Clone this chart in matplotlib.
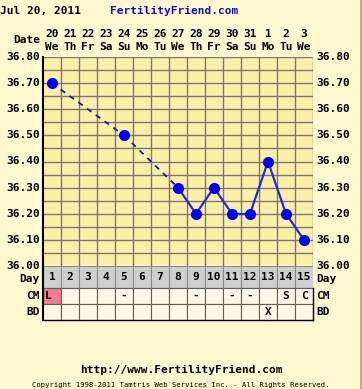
import matplotlib
matplotlib.use("Agg")
import matplotlib.pyplot as plt
from matplotlib.patches import Rectangle

# ---- data ----
dates = ["20", "21", "22", "23", "24", "25", "26", "27", "28", "29", "30", "31", "1", "2", "3"]
weekdays = ["We", "Th", "Fr", "Sa", "Su", "Mo", "Tu", "We", "Th", "Fr", "Sa", "Su", "Mo", "Tu", "We"]
cycle_days = list(range(1, 16))
temp_days = [1, 5, 8, 9, 10, 11, 12, 13, 14, 15]
temps = [36.70, 36.50, 36.30, 36.20, 36.30, 36.20, 36.20, 36.40, 36.20, 36.10]
cm = ["L", "", "", "", "-", "", "", "", "-", "", "-", "-", "", "S", "C"]
bd = ["", "", "", "", "", "", "", "", "", "", "", "", "X", "", ""]
yticks = [36.00, 36.10, 36.20, 36.30, 36.40, 36.50, 36.60, 36.70, 36.80]

W, H = 362, 389
fig = plt.figure(figsize=(W / 100, H / 100), dpi=100)
outer_bg = "#FFF7CF"
plot_bg = "#FBF0A8"
grid_c = "#7F7577"
fig.patch.set_facecolor(outer_bg)
mono = "DejaVu Sans Mono"
FS = 8

def fx(px):
    return px / W

def fy(py):
    return 1 - py / H

L, R, T, B = 43, 313, 57, 266
ax = fig.add_axes([fx(L), fy(B), fx(R - L), (B - T) / H])
ax.set_facecolor(plot_bg)
ax.set_xlim(0.5, 15.5)
ax.set_ylim(36.0, 36.8)
for i in range(1, 16):
    ax.axvline(i + 0.5, color=grid_c, lw=1.0, zorder=1)
for k in range(1, 17):
    ax.axhline(36.0 + 0.05 * k, color=grid_c, lw=1.0, zorder=1)
ax.set_xticks([])
ax.set_yticks([])
for s in ax.spines.values():
    s.set_visible(False)
ax.spines["left"].set_visible(True)
ax.spines["left"].set_color("black")
ax.spines["left"].set_linewidth(1.5)

blue = "#0000FF"
# dashed segments across gaps, solid across consecutive days
for i in range(len(temp_days) - 1):
    d0, d1 = temp_days[i], temp_days[i + 1]
    if d1 - d0 == 1:
        ax.plot([d0, d1], [temps[i], temps[i + 1]], color="#2828E0", lw=1.6,
                linestyle="-", zorder=3)
    else:
        ax.plot([d0, d1], [temps[i], temps[i + 1]], color="#1414B8", lw=1.3,
                linestyle=(0, (3, 3)), zorder=3)
ax.plot(temp_days, temps, "o", color=blue, markersize=7, zorder=4)

# y tick labels
for v in yticks:
    y = T + (36.8 - v) / 0.8 * (B - T)
    fig.text(fx(40), fy(y), f"{v:.2f}", ha="right", va="center", family=mono,
             weight="bold", fontsize=FS)
    fig.text(fx(316), fy(y), f"{v:.2f}", ha="left", va="center", family=mono,
             weight="bold", fontsize=FS)

# date header
colw = (R - L) / 15
for i in range(15):
    cx = L + colw * (i + 0.5)
    fig.text(fx(cx), fy(34), dates[i], ha="center", va="center", family=mono,
             weight="bold", fontsize=FS)
    fig.text(fx(cx), fy(47), weekdays[i], ha="center", va="center", family=mono,
             weight="bold", fontsize=FS)
fig.text(fx(40), fy(40), "Date", ha="right", va="center", family=mono,
         weight="bold", fontsize=FS)

fig.text(fx(0), fy(11), "Jul 20, 2011", ha="left", va="center", family=mono,
         weight="bold", fontsize=FS)
fig.text(fx(110), fy(11), "FertilityFriend.com", ha="left", va="center", family=mono,
         weight="bold", fontsize=FS, color="#1010C0")

# table rows
tab = fig.add_axes([fx(L), fy(320), fx(R - L), 54 / H])
tab.set_xlim(0.5, 15.5)
tab.set_ylim(54, 0)
tab.axis("off")
for i, d in enumerate(cycle_days):
    x0 = d - 0.5
    tab.add_patch(Rectangle((x0, 0), 1, 22, facecolor="#CFCFCF", edgecolor="#8A8A8A", lw=0.8))
    fc = "#F27C90" if cm[i] == "L" else "#FFF6E6"
    tab.add_patch(Rectangle((x0, 22), 1, 16, facecolor=fc, edgecolor="#606060", lw=0.8))
    tab.add_patch(Rectangle((x0, 38), 1, 16, facecolor="#FFF6E6", edgecolor="#606060", lw=0.8))
    tab.text(d, 11, str(d), ha="center", va="center", family=mono, weight="bold", fontsize=FS)
    if cm[i]:
        tab.text(d - (0.2 if cm[i] == "L" else 0), 30, cm[i], ha="center", va="center",
                 family=mono, weight="bold", fontsize=FS)
    if bd[i]:
        tab.text(d, 46, bd[i], ha="center", va="center", family=mono, weight="bold", fontsize=FS)
tab.plot([0.5, 0.5], [0, 54], color="black", lw=1.5, clip_on=False)
tab.plot([15.5, 15.5], [22, 54], color="black", lw=1.0, clip_on=False)
tab.plot([0.5, 15.5], [54, 54], color="black", lw=1.0, clip_on=False)

for lab, yy in [("Day", 279), ("CM", 296), ("BD", 312)]:
    fig.text(fx(40), fy(yy), lab, ha="right", va="center", family=mono, weight="bold", fontsize=FS)
    fig.text(fx(316), fy(yy), lab, ha="left", va="center", family=mono, weight="bold", fontsize=FS)

fig.text(0.5, fy(370), "http://www.FertilityFriend.com", ha="center", va="center",
         family=mono, weight="bold", fontsize=FS)
fig.text(0.5, fy(385), "Copyright 1998-2011 Tamtris Web Services Inc. - All Rights Reserved.",
         ha="center", va="center", family=mono, fontsize=5.2)

# thin border at the right edge of the image
fig.add_artist(plt.Line2D([fx(W - 1.5), fx(W - 1.5)], [0, 1], color="#A0A0A0", lw=1.2))

fig.savefig("out.png", dpi=100, facecolor=outer_bg)
